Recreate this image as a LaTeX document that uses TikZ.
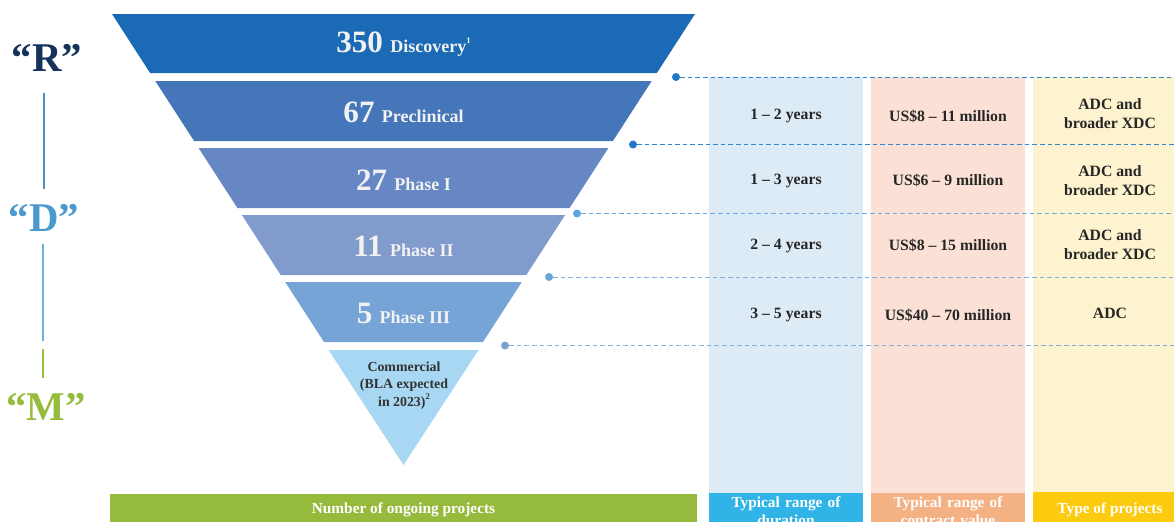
\documentclass[tikz,border=0pt]{standalone}
\usepackage{fontspec}
\setmainfont{Liberation Serif}
% funnel bands
\definecolor{bandA}{HTML}{1B6AB5}
\definecolor{bandB}{HTML}{4576BA}
\definecolor{bandC}{HTML}{6687C3}
\definecolor{bandD}{HTML}{819BCD}
\definecolor{bandE}{HTML}{76A4D6}
\definecolor{bandF}{HTML}{A7D7F3}
% R / D / M markers
\definecolor{rcol}{HTML}{15325A}
\definecolor{dcol}{HTML}{4B9ACF}
\definecolor{mcol}{HTML}{96BC3C}
\definecolor{rline}{HTML}{4F91C6}
\definecolor{dline}{HTML}{6DB0DE}
% table columns
\definecolor{durlight}{HTML}{DDEBF6}
\definecolor{vallight}{HTML}{FBE1D5}
\definecolor{typlight}{HTML}{FDF3CE}
\definecolor{durhead}{HTML}{30B3E7}
\definecolor{valhead}{HTML}{F4B183}
\definecolor{typhead}{HTML}{FCCB0E}
\definecolor{numhead}{HTML}{96BA3C}
\definecolor{celltext}{HTML}{262626}
\definecolor{comtext}{HTML}{333333}
% guide lines
\definecolor{guideA}{HTML}{2E86D1}
\definecolor{guideB}{HTML}{6CAAE0}
\definecolor{guideC}{HTML}{82AEDD}
\definecolor{pinA}{HTML}{2178C6}
\definecolor{pinB}{HTML}{5DA5DB}
\definecolor{pinC}{HTML}{6AA6DA}
\definecolor{pinD}{HTML}{7B9FD6}
\begin{document}
\begin{tikzpicture}[x=0.75pt,y=-0.75pt,
  bandtext/.style={text=white!95!black, font=\bfseries, anchor=base, inner sep=0pt},
  cell/.style={font=\fontsize{11.8}{14.3}\selectfont\bfseries, text=celltext, align=center, inner sep=0pt},
  head/.style={font=\fontsize{11.5}{13.5}\selectfont\bfseries, text=white, align=center, inner sep=0pt},
  letter/.style={font=\fontsize{30.6}{32}\selectfont\bfseries, inner sep=0pt},
  guide/.style={line width=0.75pt, dash pattern=on 3.4pt off 2.3pt},
  pin/.style={circle, inner sep=0pt, minimum size=6pt},
]
\useasboundingbox (0,0) rectangle (1174,522);
\clip (0,0) rectangle (1174,522);

% ---- table columns ----
\fill[durlight] (709,77) rectangle (863,494);
\fill[vallight] (871,77) rectangle (1025,494);
\fill[typlight] (1033,77) rectangle (1174,494);
\fill[durhead] (709,493) rectangle (863,522);
\fill[valhead] (871,493) rectangle (1025,522);
\fill[typhead] (1033,492) rectangle (1174,522);
\fill[numhead] (110,494) rectangle (697,522);

% ---- funnel ----
\fill[bandA] (112,14) -- (695,14) -- (656.9,73) -- (150.1,73) -- cycle;
\fill[bandB] (155.3,81) -- (651.7,81) -- (612.9,141) -- (194.1,141) -- cycle;
\fill[bandC] (198.6,148) -- (608.4,148) -- (569.6,208) -- (237.4,208) -- cycle;
\fill[bandD] (241.9,215) -- (565.1,215) -- (526.3,275) -- (280.7,275) -- cycle;
\fill[bandE] (285.2,282) -- (521.8,282) -- (483.0,342) -- (324.0,342) -- cycle;
\fill[bandF] (328.5,350) -- (478.5,350) -- (403.5,465) -- cycle;

\newcommand\bignum[1]{{\fontsize{23.3}{24}\selectfont #1}\hspace{5.5pt}}
\newcommand\stagename[1]{{\fontsize{13.5}{14}\selectfont #1}}
\newcommand\footmark[1]{\raisebox{0.5em}{\fontsize{6.5}{7}\selectfont #1}}

\node[bandtext] (discovery) at (403.5,52) {\bignum{350}\stagename{Discovery\footmark{1}}};
\node[bandtext] (preclinical) at (403.5,122) {\bignum{67}\stagename{Preclinical}};
\node[bandtext] (phaseone) at (403.5,190) {\bignum{27}\stagename{Phase I}};
\node[bandtext] (phasetwo) at (403.5,256) {\bignum{11}\stagename{Phase II}};
\node[bandtext] (phasethree) at (403.5,323) {\bignum{5}\stagename{Phase III}};
\node[font=\fontsize{10.4}{13.2}\selectfont\bfseries, text=comtext, align=center, inner sep=0pt]
  (commercial) at (404,385.5) {Commercial\\(BLA expected\\in 2023)\footmark{2}};

% ---- guide lines with pins ----
\node[pin, fill=pinA] (p1) at (676,77) {};
\node[pin, fill=pinA] (p2) at (633,144.5) {};
\node[pin, fill=pinB] (p3) at (577,213.5) {};
\node[pin, fill=pinC] (p4) at (549,277) {};
\node[pin, fill=pinD] (p5) at (505,345.5) {};
\coordinate (e1) at (1174,77);
\coordinate (e2) at (1174,144.5);
\coordinate (e3) at (1174,213.5);
\coordinate (e4) at (1174,277);
\coordinate (e5) at (1174,345.5);
\draw[guide, guideA] (p1) -- (e1);
\draw[guide, guideA] (p2) -- (e2);
\draw[guide, guideB] (p3) -- (e3);
\draw[guide, guideC] (p4) -- (e4);
\draw[guide, guideC] (p5) -- (e5);

% ---- table cells ----
\node[cell] (d1) at (786,116) {1 – 2 years};
\node[cell] (d2) at (786,180.5) {1 – 3 years};
\node[cell] (d3) at (786,245.5) {2 – 4 years};
\node[cell] (d4) at (786,315) {3 – 5 years};
\node[cell] (v1) at (948,116) {US\$8 – 11 million};
\node[cell] (v2) at (948,180.5) {US\$6 – 9 million};
\node[cell] (v3) at (948,245.5) {US\$8 – 15 million};
\node[cell] (v4) at (948,315) {US\$40 – 70 million};
\node[cell] (t1) at (1110,114) {ADC and\\broader XDC};
\node[cell] (t2) at (1110,180.5) {ADC and\\broader XDC};
\node[cell] (t3) at (1110,245) {ADC and\\broader XDC};
\node[cell] (t4) at (1110,313) {ADC};

% ---- headers ----
\node[head] (hnum) at (403.5,510) {Number of ongoing projects};
\node[head, text width=150pt] (hdur) at (786,511) {Typical range of\\duration};
\node[head, text width=150pt] (hval) at (948,511) {Typical range of\\contract value};
\node[head] (htyp) at (1110,509.5) {Type of projects};

% ---- R / D / M ----
\node[letter, text=rcol] (R) at (47,58) {“R”};
\node[letter, text=dcol] (D) at (44,217.5) {“D”};
\node[letter, text=mcol] (M) at (46,406.5) {“M”};
\draw[rline, line width=2pt] (44,93) -- (44,189);
\draw[dline, line width=2pt] (43,244) -- (43,341);
\draw[mcol, line width=2pt] (43,349) -- (43,378);
\end{tikzpicture}
\end{document}
